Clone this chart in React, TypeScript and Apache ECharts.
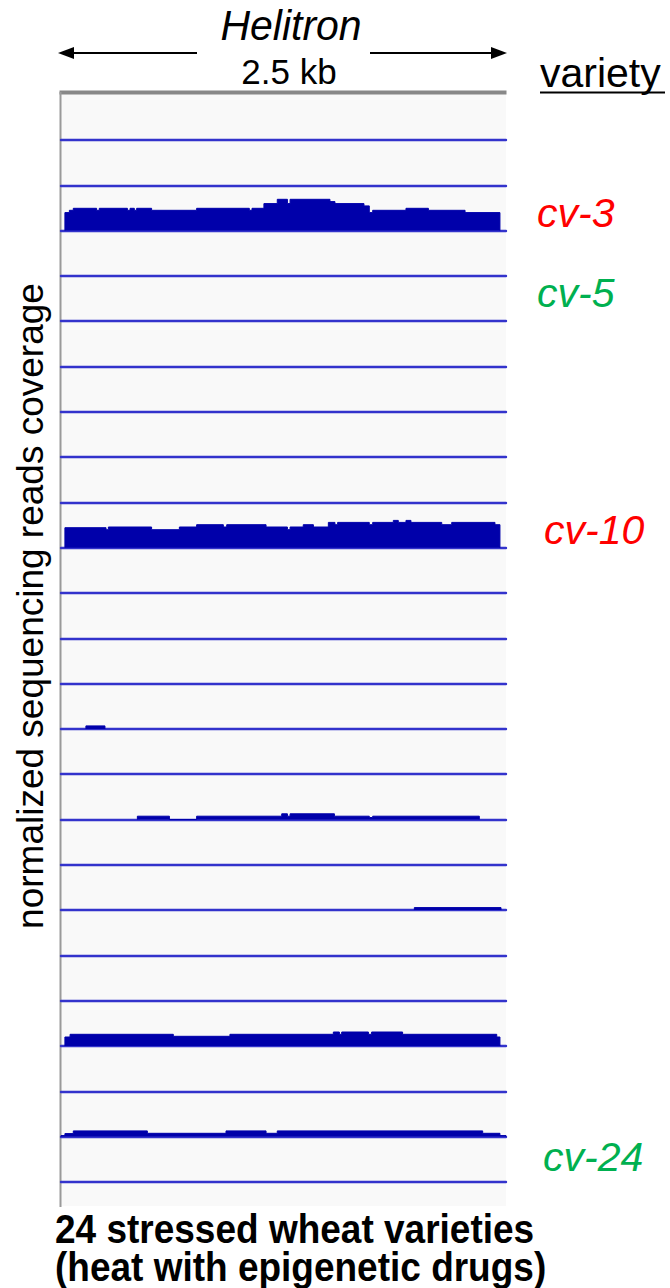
import React, { useEffect, useRef } from "react";
import * as echarts from "echarts";

// ---- data (genomic position in bp over a 2.5 kb Helitron; normalized coverage) ----
const regionStart = 0;
const regionEnd = 2500;
const trackCount = 24;
const trackMax = 45.3;

const cv3Breaks = [22, 47, 69, 200, 215, 373, 388, 412, 425, 509, 762, 1058, 1073, 1140, 1215, 1272, 1287, 1511, 1539, 1702, 1732, 1751, 1938, 2064, 2270, 2466];
const cv3Cov = [18, 20.3, 22.3, 20.3, 22.3, 20.3, 22.3, 20.3, 22.3, 20.3, 22.3, 20.3, 22.3, 27, 31.3, 27, 31.3, 29, 27, 24.7, 18, 20.3, 22.3, 20.3, 18];

const cv10Breaks = [22, 253, 266, 509, 665, 762, 912, 931, 1152, 1272, 1287, 1361, 1418, 1502, 1539, 1554, 1732, 1751, 1867, 1895, 1938, 1966, 2139, 2195, 2438, 2466];
const cv10Cov = [20, 18, 20.7, 18, 20.7, 23, 20.7, 23, 20.7, 18, 20.7, 23, 20.7, 25.3, 23, 25.3, 23, 25.3, 27.3, 25.3, 27.3, 25.3, 23, 25.3, 23];

const cv14Breaks = [140, 247];
const cv14Cov = [3];

const cv16Breaks = [429, 609, 762, 1240, 1272, 1287, 1536, 1732, 1751, 2350];
const cv16Cov = [3.3, 0, 3.3, 5.7, 3.3, 5.7, 3.3, 2, 3.3];

const cv18Breaks = [1985, 2472];
const cv18Cov = [2.5];

const cv21Breaks = [22, 51, 631, 949, 1530, 1564, 1577, 1727, 1745, 1919, 2448, 2466];
const cv21Cov = [9, 11.7, 9.7, 11.7, 14, 11.7, 14, 11.7, 14, 11.7, 9];

const cv23Breaks = [0, 22, 69, 485, 927, 1152, 1215, 2369, 2466, 2500];
const cv23Cov = [1, 3, 5.7, 3.3, 5.7, 3.3, 5.7, 3.3, 1];

// track number (1-based) -> coverage profile
const tracks: { [k: number]: { breaks: number[]; cov: number[] } } = {
  3: { breaks: cv3Breaks, cov: cv3Cov },
  10: { breaks: cv10Breaks, cov: cv10Cov },
  14: { breaks: cv14Breaks, cov: cv14Cov },
  16: { breaks: cv16Breaks, cov: cv16Cov },
  18: { breaks: cv18Breaks, cov: cv18Cov },
  21: { breaks: cv21Breaks, cov: cv21Cov },
  23: { breaks: cv23Breaks, cov: cv23Cov },
};

const varietyLabels = [
  { track: 3, text: "cv-3", color: "#ff0000" },
  { track: 5, text: "cv-5", color: "#00b050" },
  { track: 10, text: "cv-10", color: "#ff0000" },
  { track: 24, text: "cv-24", color: "#00b050" },
];

const titleText = "Helitron";
const lengthText = "2.5 kb";
const varietyHeader = "variety";
const yTitle = "normalized sequencing reads coverage";
const bottomLine1 = "24 stressed wheat varieties";
const bottomLine2 = "(heat with epigenetic drugs)";

// ---- layout ----
const W = 670;
const H = 1288;
const PANEL_L = 61;
const PANEL_W = 445;
const PANEL_TOP = 94.7;
const ROW_H = 45.3;
const FONT = "'Liberation Sans', Arial, Helvetica, sans-serif";
const FILL = "#0000aa";
const LINE = "#3333cc";

function stepData(breaks: number[], cov: number[]) {
  const d: number[][] = [[breaks[0], 0]];
  for (let i = 0; i < cov.length; i++) d.push([breaks[i], cov[i]]);
  d.push([breaks[breaks.length - 1], 0]);
  return d;
}

export default function App() {
  const ref = useRef<HTMLDivElement>(null);
  useEffect(() => {
    document.body.style.margin = "0";
    if (!ref.current) return;
    const chart = echarts.init(ref.current, undefined, { renderer: "svg" });

    const grid: any[] = [];
    const xAxis: any[] = [];
    const yAxis: any[] = [];
    const series: any[] = [];
    for (let i = 0; i < trackCount; i++) {
      grid.push({ left: PANEL_L, width: PANEL_W, top: PANEL_TOP + i * ROW_H, height: ROW_H });
      xAxis.push({
        gridIndex: i,
        type: "value",
        min: regionStart,
        max: regionEnd,
        axisLine: { show: true, onZero: false, lineStyle: { color: LINE, width: 2.4 } },
        axisTick: { show: false },
        axisLabel: { show: false },
        splitLine: { show: false },
      });
      yAxis.push({ gridIndex: i, type: "value", min: 0, max: trackMax, show: false });
      const t = tracks[i + 1];
      if (t) {
        series.push({
          type: "line",
          xAxisIndex: i,
          yAxisIndex: i,
          step: "end",
          showSymbol: false,
          symbol: "none",
          data: stepData(t.breaks, t.cov),
          lineStyle: { color: FILL, width: 1 },
          areaStyle: { color: FILL, opacity: 1 },
          z: 3,
        });
      }
    }

    const lastLineY = PANEL_TOP + trackCount * ROW_H;
    const graphic: any[] = [
      // panel background
      { type: "rect", z: -10, shape: { x: PANEL_L - 1, y: PANEL_TOP - 1, width: PANEL_W + 1, height: lastLineY + 25 - PANEL_TOP }, style: { fill: "#f9f9f9" } },
      { type: "rect", z: -5, shape: { x: 59.5, y: 90.5, width: PANEL_W + 2, height: 4 }, style: { fill: "#888888" } },
      { type: "line", z: -5, shape: { x1: 60.5, y1: 92, x2: 60.5, y2: lastLineY + 25 }, style: { stroke: "#9a9a9a", lineWidth: 2 } },
      // arrows
      { type: "line", shape: { x1: 70, y1: 53, x2: 197, y2: 53 }, style: { stroke: "#000", lineWidth: 2 } },
      { type: "polygon", shape: { points: [[58, 53], [74, 47], [74, 59]] }, style: { fill: "#000" } },
      { type: "line", shape: { x1: 370, y1: 53, x2: 494, y2: 53 }, style: { stroke: "#000", lineWidth: 2 } },
      { type: "polygon", shape: { points: [[507, 53], [491, 47], [491, 59]] }, style: { fill: "#000" } },
      // top texts
      { type: "text", x: 291, y: 25, scaleY: 1.06, style: { text: titleText, font: `italic 41px ${FONT}`, fill: "#000", textAlign: "center", textVerticalAlign: "middle" } },
      { type: "text", x: 289, y: 71, style: { text: lengthText, font: `35px ${FONT}`, fill: "#000", textAlign: "center", textVerticalAlign: "middle" } },
      { type: "text", x: 540, y: 73, style: { text: varietyHeader, font: `41px ${FONT}`, fill: "#000", textAlign: "left", textVerticalAlign: "middle" } },
      { type: "line", shape: { x1: 540, y1: 92.5, x2: 665, y2: 92.5 }, style: { stroke: "#000", lineWidth: 2 } },
      // y title
      { type: "text", x: 30, y: 606, rotation: Math.PI / 2, style: { text: yTitle, font: `37px ${FONT}`, fill: "#000", textAlign: "center", textVerticalAlign: "middle" } },
      // bottom texts
      { type: "text", x: 55, y: 1229, scaleY: 1.08, style: { text: bottomLine1, font: `bold 37px ${FONT}`, fill: "#000", textAlign: "left", textVerticalAlign: "middle" } },
      { type: "text", x: 55, y: 1267, scaleY: 1.08, style: { text: bottomLine2, font: `bold 37px ${FONT}`, fill: "#000", textAlign: "left", textVerticalAlign: "middle" } },
    ];
    const labelX: { [k: string]: number } = { "cv-3": 537, "cv-5": 537, "cv-10": 544, "cv-24": 543 };
    for (const l of varietyLabels) {
      const lineY = PANEL_TOP + l.track * ROW_H;
      const baseOffset = l.track === 5 ? -14 : l.track === 24 ? -11 : -3;
      graphic.push({
        type: "text",
        x: labelX[l.text],
        y: lineY + baseOffset - 14.4,
        style: { text: l.text, font: `italic 41px ${FONT}`, fill: l.color, textAlign: "left", textVerticalAlign: "middle" },
      });
    }

    chart.setOption({
      animation: false,
      backgroundColor: "#ffffff",
      grid,
      xAxis,
      yAxis,
      series,
      graphic,
    });
    return () => chart.dispose();
  }, []);
  return <div ref={ref} style={{ width: W, height: H, position: "absolute", left: 0, top: 0 }} />;
}
